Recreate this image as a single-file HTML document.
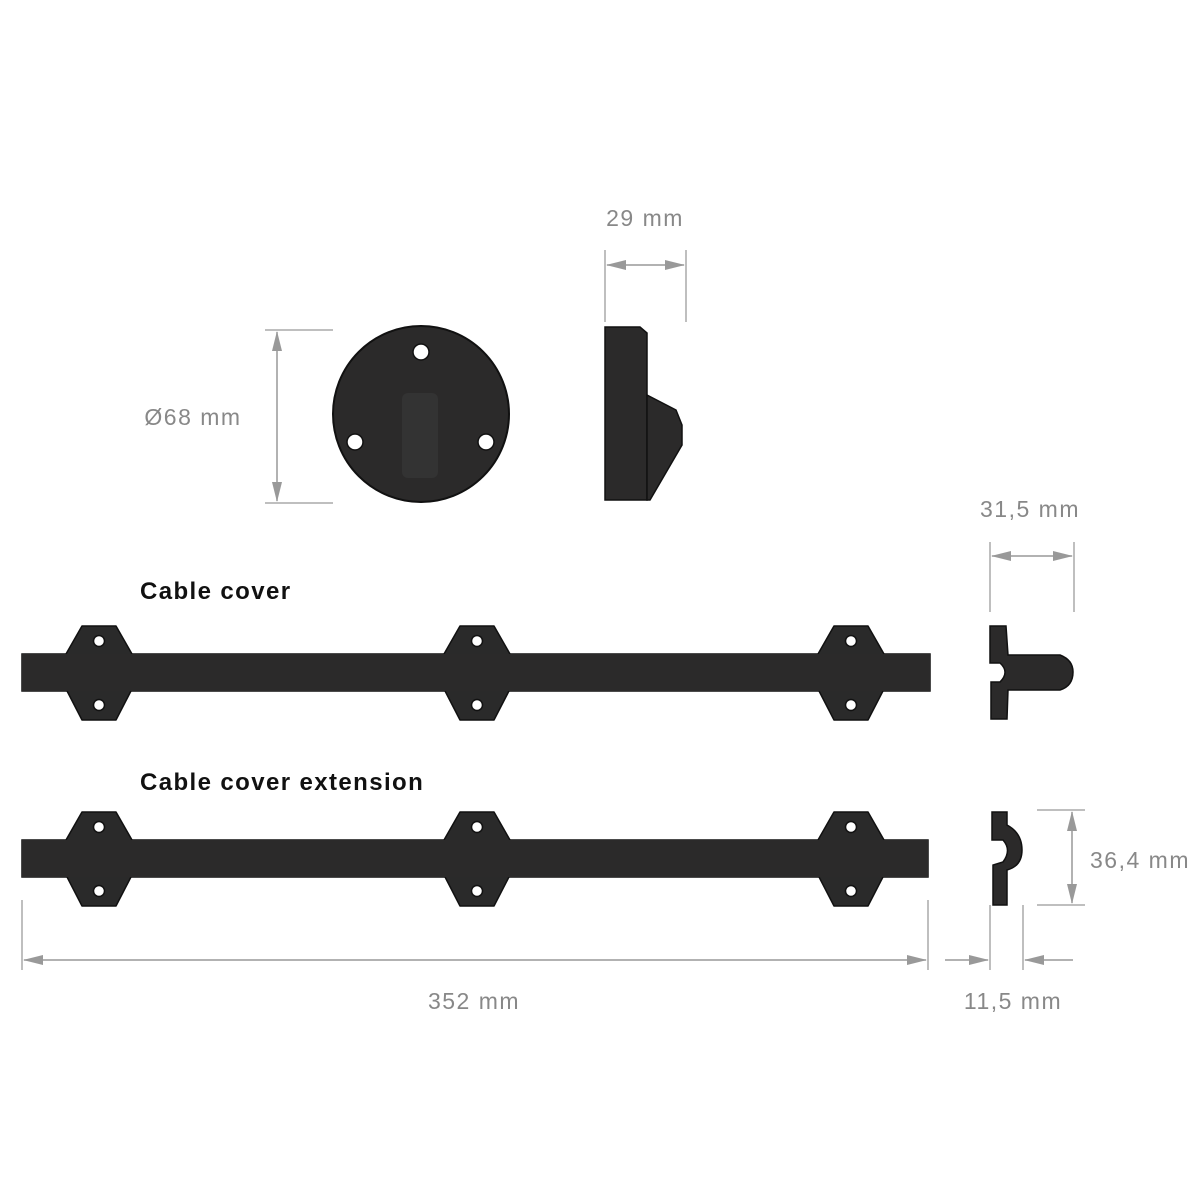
<!DOCTYPE html>
<html><head><style>body{margin:0;background:#fff}svg{display:block}</style></head><body>
<svg width="1200" height="1200" viewBox="0 0 1200 1200" xmlns="http://www.w3.org/2000/svg" font-family="Liberation Sans, sans-serif">
<defs>
<marker id="b" markerWidth="20" markerHeight="10" refX="19" refY="5" orient="auto-start-reverse" markerUnits="userSpaceOnUse"><path d="M0,0 L20,5 L0,10z" fill="#999"/></marker>
<g id="br"><path d="M-17,-27 L17,-27 L33,1 L33,36 L17,67 L-17,67 L-33,36 L-33,1Z" fill="#2a2a2a" stroke="#111" stroke-width="1.5" stroke-linejoin="round"/><circle cx="0" cy="-12" r="5.5" fill="#fff" stroke="#111" stroke-width="1.5"/><circle cx="0" cy="52" r="5.5" fill="#fff" stroke="#111" stroke-width="1.5"/></g>
</defs>
<g fill="#888" font-size="23" letter-spacing="1.5" text-anchor="middle">
<text x="193" y="425">Ø68 mm</text>
<text x="645" y="226">29 mm</text>
<text x="1030" y="517">31,5 mm</text>
<text x="1140" y="868">36,4 mm</text>
<text x="474" y="1009">352 mm</text>
<text x="1013" y="1009">11,5 mm</text>
</g>
<g fill="#111" font-size="24" font-weight="bold" letter-spacing="1.4">
<text x="140" y="599">Cable cover</text>
<text x="140" y="790">Cable cover extension</text>
</g>
<g stroke="#aaa" stroke-width="1.5" fill="none">
<path d="M265,330H333M265,503H333M605,250V322M686,250V322M990,542V612M1074,542V612M1037,810H1085M1037,905H1085M22,900V970M928,900V970M990,905V970M1023,905V970"/>
</g>
<g stroke="#999" stroke-width="1.5">
<line x1="277" y1="332" x2="277" y2="501" marker-start="url(#b)" marker-end="url(#b)"/>
<line x1="607" y1="265" x2="684" y2="265" marker-start="url(#b)" marker-end="url(#b)"/>
<line x1="992" y1="556" x2="1072" y2="556" marker-start="url(#b)" marker-end="url(#b)"/>
<line x1="1072" y1="812" x2="1072" y2="903" marker-start="url(#b)" marker-end="url(#b)"/>
<line x1="24" y1="960" x2="926" y2="960" marker-start="url(#b)" marker-end="url(#b)"/>
<line x1="945" y1="960" x2="988" y2="960" marker-end="url(#b)"/>
<line x1="1073" y1="960" x2="1025" y2="960" marker-end="url(#b)"/>
</g>
<circle cx="421" cy="414" r="88" fill="#2b2a2a" stroke="#111" stroke-width="2"/>
<rect x="402" y="393" width="36" height="85" rx="6" fill="#333"/>
<g fill="#fff" stroke="#111" stroke-width="1.5"><circle cx="421" cy="352" r="8"/><circle cx="355" cy="442" r="8"/><circle cx="486" cy="442" r="8"/></g>
<path d="M605,327 L640,327 L647,333 L647,500 L605,500Z" fill="#2b2a2a" stroke="#111" stroke-width="1.5"/>
<path d="M647,395 L676,410 L682,425 L682,445 L650,500 L647,500Z" fill="#2b2a2a" stroke="#111" stroke-width="1.5"/>
<rect x="22" y="654" width="908" height="37" fill="#2b2a2a" stroke="#111" stroke-width="1.5"/>
<use href="#br" x="99" y="653"/><use href="#br" x="477" y="653"/><use href="#br" x="851" y="653"/>
<rect x="22" y="654" width="908" height="37" fill="#2b2a2a"/>
<rect x="22" y="840" width="906" height="37" fill="#2b2a2a" stroke="#111" stroke-width="1.5"/>
<use href="#br" x="99" y="839"/><use href="#br" x="477" y="839"/><use href="#br" x="851" y="839"/>
<rect x="22" y="840" width="906" height="37" fill="#2b2a2a"/>
<path d="M990,626 L1006,626 L1008,655 L1060,655 Q1073,660 1073,672 Q1073,686 1060,690 L1008,690 L1007,719 L991,719 L991,682 L1000,682 Q1010,672 1000,663 L990,663Z" fill="#2b2a2a" stroke="#111" stroke-width="1.5"/>
<path d="M992,812 L1007,812 L1007,825 Q1022,833 1022,850 Q1022,866 1007,870 L1007,905 L993,905 L993,865 L1003,862 Q1012,850 1003,840 L992,840Z" fill="#2b2a2a" stroke="#111" stroke-width="1.5"/>
</svg>
</body></html>
